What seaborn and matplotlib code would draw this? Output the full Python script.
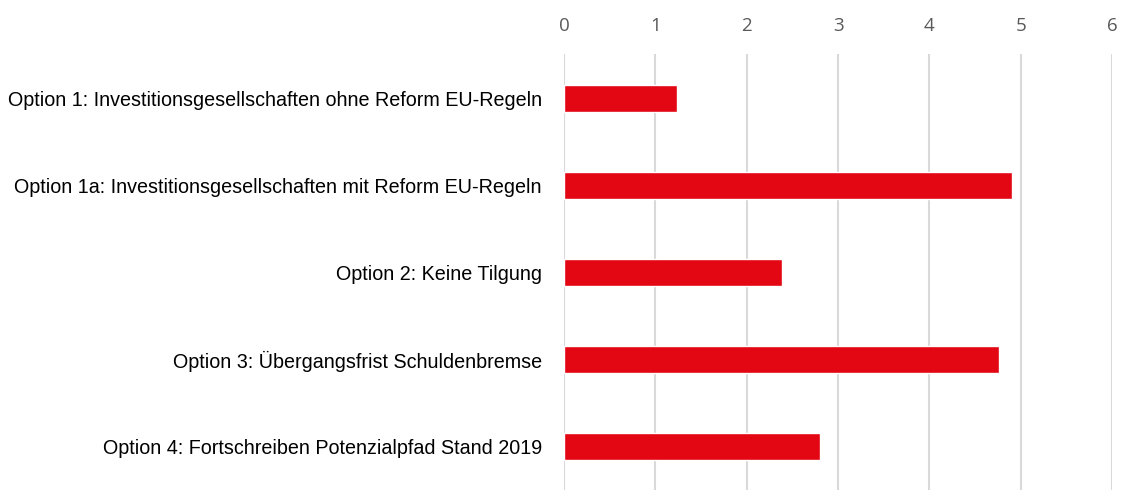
import matplotlib
matplotlib.use("Agg")
import matplotlib.pyplot as plt
import pandas as pd
import seaborn as sns

options = [
    "Option 1: Investitionsgesellschaften ohne Reform EU-Regeln",
    "Option 1a: Investitionsgesellschaften mit Reform EU-Regeln",
    "Option 2: Keine Tilgung",
    "Option 3: Übergangsfrist Schuldenbremse",
    "Option 4: Fortschreiben Potenzialpfad Stand 2019",
]
values = [1.24, 4.90, 2.39, 4.76, 2.80]
x_ticks = [0, 1, 2, 3, 4, 5, 6]

df = pd.DataFrame({"option": options, "value": values})

sns.set_style("white")
plt.rcParams["font.family"] = ["Liberation Sans", "DejaVu Sans"]

fig = plt.figure(figsize=(11.22, 4.90), dpi=100)
ax = fig.add_axes([564 / 1122, 0.0, 548 / 1122, 1 - 54.5 / 490])

sns.barplot(data=df, x="value", y="option", orient="h", color="#E30613",
            saturation=1, width=0.31, ax=ax, zorder=3)

ax.set_xlim(0, 6)
ax.set_xticks(x_ticks)
ax.xaxis.tick_top()
ax.tick_params(axis="x", length=0, pad=14, labelsize=13.5, labelcolor="#595959")
for lbl in ax.get_xticklabels():
    lbl.set_family(["Open Sans", "DejaVu Sans"])
ax.tick_params(axis="y", length=0, pad=16, labelsize=14.2, labelcolor="#000000")
ax.set_xlabel("")
ax.set_ylabel("")
ax.grid(axis="x", color="#d9d9d9", linewidth=1.5, zorder=0)
ax.grid(axis="y", visible=False)
for s in ax.spines.values():
    s.set_visible(False)

fig.savefig("out.png", dpi=100)
